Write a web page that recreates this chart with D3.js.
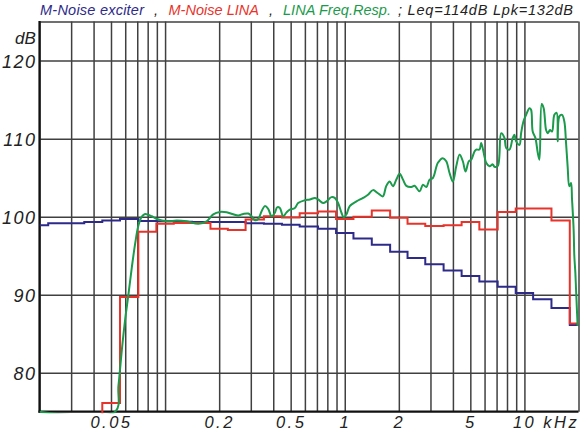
<!DOCTYPE html>
<html><head><meta charset="utf-8">
<script src="https://cdn.jsdelivr.net/npm/d3@7"></script>
<style>
body{margin:0;background:#fff}
svg{display:block}
text{font-family:"Liberation Sans",Arial,sans-serif;font-style:italic}
</style>
</head><body>
<svg id="c" width="580" height="432"></svg>
<script>
// ---- data ----
const bandsHz = [20,25,31.5,40,50,63,80,100,125,160,200,250,315,400,500,630,800,1000,1250,1600,2000,2500,3150,4000,5000,6300,8000,10000,12500,16000,20000];
const exciterDb = [98.9,99.15,99.15,99.3,99.5,99.7,99.45,99.4,99.35,99.3,99.3,99.3,99.15,99.1,98.95,98.75,98.45,97.9,97.2,96.4,95.5,94.7,93.9,93.1,92.4,91.7,91.0,90.2,89.4,88.3,86.1];
const linaDb = [null,null,null,74,76.1,89.7,98.05,99.1,99.2,99.2,98.45,98.3,99.65,100.05,99.9,100.45,100.65,99.7,100.0,100.8,99.85,99.1,98.8,98.9,99.3,98.35,100.6,101.05,101.05,99.5,86.3];
const respKHz = [0.02,0.0528,0.055,0.0575,0.06,0.0625,0.0653,0.0681,0.0711,0.0742,0.0774,0.0843,0.0899,0.1022,0.1161,0.132,0.1531,0.1705,0.1854,0.202,0.2202,0.2395,0.2554,0.2723,0.2904,0.3031,0.3162,0.3299,0.3445,0.3594,0.3749,0.3916,0.4084,0.4205,0.4353,0.4542,0.4744,0.4949,0.5275,0.5502,0.5995,0.6392,0.6813,0.7109,0.7577,0.7913,0.8436,0.8799,0.918,0.9587,0.9873,1.022,1.066,1.161,1.264,1.347,1.436,1.53,1.63,1.70,1.778,1.855,1.937,2.021,2.108,2.202,2.348,2.448,2.61,2.723,2.844,2.966,3.094,3.299,3.517,3.673,3.831,3.997,4.174,4.356,4.542,4.701,4.905,5.057,5.275,5.391,5.623,5.746,5.995,6.126,6.392,6.667,6.813,7.109,7.424,7.743,7.913,8.254,8.61,8.799,8.993,9.38,9.587,9.873,10.22,10.66,10.89,11.12,11.51,11.86,12.12,12.48,12.8,13.2,13.47,13.89,14.25,14.68,15.12,15.31,15.65,16.2,16.68,17.05,17.4,17.78,18.17,18.41,18.79,18.96,19.21,19.38,19.63,19.78];
const respDb = [75,75,78.3,83,86.9,90.0,93.5,96.5,98.9,100.0,100.35,100.05,99.7,99.4,99.5,99.4,99.1,99.4,100.3,100.6,100.55,100.3,100.15,100.35,100.4,100.05,99.55,99.7,100.7,101.35,101.0,100.05,100.5,101.2,101.1,100.05,100.55,100.9,101.1,101.75,102.1,102.2,102.4,102.2,101.75,101.95,102.5,102.4,101.75,100.5,99.9,100.3,101.35,101.95,102.4,102.8,103.4,103.0,102.6,103.9,104.5,103.9,104.75,105.5,104.75,103.95,103.8,103.95,103.25,104.1,103.8,104.75,104.95,106.9,107.5,107.1,105.6,104.5,106.45,107.95,107.1,105.8,107.1,107.3,108.35,108.6,108.6,109.45,107.7,106.9,106.45,106.7,106.4,106.5,110.7,110.1,108.8,108.6,110.1,110.5,109.65,109.2,110.7,112.2,113.05,113.9,113.7,110.9,110.1,108.2,107.3,114.45,113.9,111.1,110.7,111.1,110.9,113.05,113.3,109.65,112.85,113.05,112.2,109.45,106.45,103.9,104.3,102.2,98.35,94.95,92.8,90.7,87.7,86.0];
const yTicks = [80,90,100,110,120];
const xLabelValues = [0.05,0.2,0.5,1,2,5,10];
const xLabels = ["0.05","0.2","0.5","1","2","5","10 kHz"];
const titleTexts = ["M-Noise exciter", ",", "M-Noise LINA", ",", "LINA Freq.Resp.", "; Leq=114dB Lpk=132dB"];
const yUnit = "dB";

// ---- layout / style ----
const titleX = [40,154,168.5,269,283,398];
const titleLen = [104,null,90.5,null,108,175];
const titleCol = ["#2e2a8a","#222","#e8332a","#222","#1a9a4a","#222"];
const C = {blue:"#2e2a8a", red:"#e8332a", green:"#1a9a4a", grid:"#404040"};
const L = 39.5, R = 578.5, T = 21.6, B = 411.7;

const svg = d3.select("#c");
const x = d3.scaleLog().domain([0.02,20]).range([L,R]);
const y = d3.scaleLinear().domain([75,125]).range([B,T]);

// grid
const gx = svg.append("g").attr("transform",`translate(0,${B})`)
  .call(d3.axisBottom(x).tickValues(x.ticks()).tickSize(-(B-T)).tickFormat(""));
gx.select(".domain").remove();
gx.selectAll("line").attr("stroke",C.grid).attr("stroke-width",1.5);

const gy = svg.append("g").attr("transform",`translate(${L},0)`)
  .call(d3.axisLeft(y).tickValues(yTicks.concat([125])).tickSize(-(R-L)).tickFormat(""));
gy.select(".domain").remove();
gy.selectAll("line").attr("stroke",C.grid).attr("stroke-width",1.5);

// frame (left & bottom thick)
svg.append("line").attr("x1",L).attr("x2",L).attr("y1",T-0.7).attr("y2",B+1).attr("stroke","#111").attr("stroke-width",2.2);
svg.append("line").attr("x1",L-1).attr("x2",R).attr("y1",B).attr("y2",B).attr("stroke","#111").attr("stroke-width",2.2);

// y labels
const ya = svg.append("g").attr("transform",`translate(${L},0)`)
  .call(d3.axisLeft(y).tickValues(yTicks).tickSize(0).tickPadding(3));
ya.select(".domain").remove();
ya.selectAll("text").attr("font-size",18).attr("letter-spacing",1.5)
  .attr("font-family",null).attr("fill","#222").attr("dy","0.36em");

svg.append("text").attr("x",15).attr("y",44).attr("font-size",17).attr("fill","#222").text(yUnit);

// x labels
const xa = svg.append("g").attr("transform",`translate(0,${B})`)
  .call(d3.axisBottom(x).tickValues(xLabelValues).tickSize(0).tickFormat((d,i)=>xLabels[i]));
xa.select(".domain").remove();
xa.selectAll("text").attr("font-size",16.5).attr("letter-spacing",2.5)
  .attr("font-family",null).attr("fill","#222").attr("y",16.5).attr("dy",0)
  .each(function(d,i){ if(i===xLabels.length-1){ d3.select(this).attr("text-anchor","start").attr("dx",-12);} });

// title
const tt = svg.append("text").attr("y",15).attr("font-size",14.5);
titleTexts.forEach((s,i)=>{
  const ts = tt.append("tspan").attr("x",titleX[i]).attr("fill",titleCol[i]).text(s);
  if(titleLen[i]) ts.attr("textLength",titleLen[i]).attr("lengthAdjust","spacing");
});

// clip
svg.append("clipPath").attr("id","pc").append("rect")
  .attr("x",L).attr("y",T-2).attr("width",R-L+1.5).attr("height",B-T+3.5);
const plot = svg.append("g").attr("clip-path","url(#pc)");

const bands = bandsHz.map((f,i)=>({f:f/1000, e:exciterDb[i], l:linaDb[i]}));

plot.append("path")
  .attr("d", d3.line().x(d=>x(d.f)).y(d=>y(d.e)).curve(d3.curveStep)(bands))
  .attr("fill","none").attr("stroke",C.blue).attr("stroke-width",2);

plot.append("path")
  .attr("d", d3.line().defined(d=>d.l!=null).x(d=>x(d.f)).y(d=>y(d.l)).curve(d3.curveStep)(bands))
  .attr("fill","none").attr("stroke",C.red).attr("stroke-width",2);

const resp = respKHz.map((f,i)=>({f, v:respDb[i]}));
plot.append("path")
  .attr("d", d3.line().x(d=>x(d.f)).y(d=>y(d.v)).curve(d3.curveCatmullRom.alpha(0.5))(resp))
  .attr("fill","none").attr("stroke",C.green).attr("stroke-width",2);
</script>
</body></html>
